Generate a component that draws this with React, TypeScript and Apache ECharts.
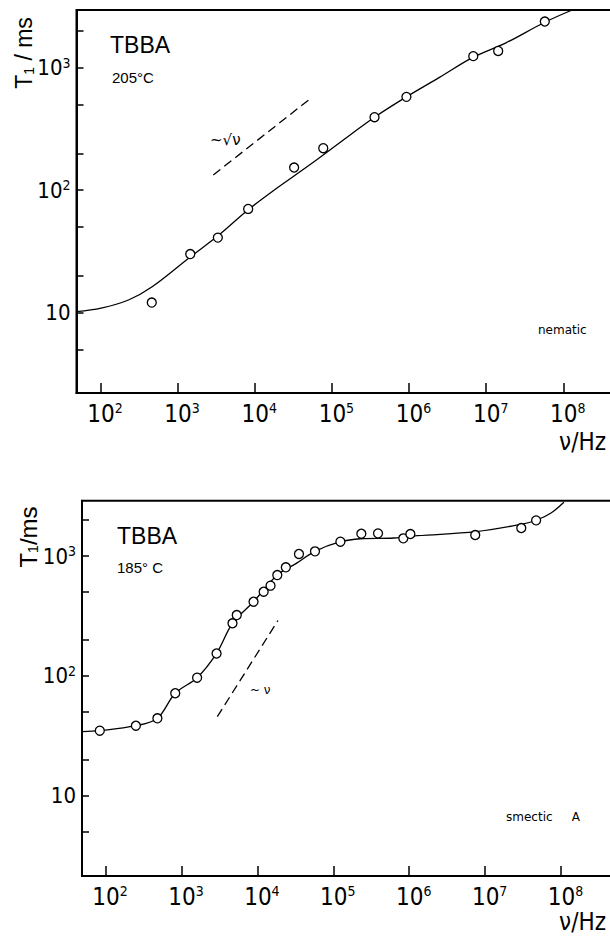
import React, { useEffect, useRef } from "react";
import * as echarts from "echarts";

// ---- axis ticks (log10 exponents / values) ----
const xDecades = [2, 3, 4, 5, 6, 7, 8];
const yDecades = [1, 2, 3];
const yTickValues = [5, 10, 20, 50, 100, 200, 500, 1000, 2000];

// ---- nematic, 205 °C ----
const nematicFreq = [463, 1460, 3325, 8220, 32400, 77300, 357000, 925000, 6.8e6, 1.43e7, 5.75e7];
const nematicT1 = [12.1, 30.1, 41, 70.3, 153, 220, 394, 577, 1240, 1368, 2377];
const nematicFitFreq = [49, 102, 231, 463, 1460, 3310, 8220, 16900, 53950, 172200, 357000, 925000, 2.48e6, 6.81e6, 1.78e7, 5.75e7, 1.3e8];
const nematicFitT1 = [10.2, 10.9, 12.7, 16.2, 28.5, 42.2, 69.2, 97.7, 164, 282, 394, 577, 832, 1216, 1585, 2344, 2951];
const nematicSlopeFreq = [2900, 52000];
const nematicSlopeT1 = [133, 555];

// ---- smectic A, 185 °C ----
const smecticFreq = [84, 251, 482, 828, 1607, 2900, 4700, 5350, 8900, 12100, 14900, 18300, 23700, 35300, 57400, 124000, 234000, 388000, 836000, 1.035e6, 7.4e6, 2.99e7, 4.69e7];
const smecticT1 = [35, 38.5, 44.4, 71.8, 96.8, 154, 275, 322, 416, 504, 566, 694, 805, 1040, 1094, 1316, 1534, 1545, 1404, 1525, 1496, 1711, 1983];
const smecticFitFreq = [49.3, 83.9, 251, 482, 828, 1607, 2897, 4699, 8892, 18280, 32580, 57280, 124700, 229100, 628100, 1.279e6, 7.568e6, 3.0e7, 4.72e7, 7.29e7, 1.09e8];
const smecticFitT1 = [34.4, 35.0, 38.5, 44.4, 71.8, 96.8, 154.5, 274.8, 415.9, 695, 869, 1094, 1315, 1393, 1413, 1476, 1596, 1837, 1986, 2270, 2805];
const smecticSlopeFreq = [2965, 18660];
const smecticSlopeT1 = [45.8, 290];

const FONT = '"Liberation Sans Narrow", "DejaVu Sans Condensed", "Liberation Sans", Arial, sans-serif';
const SANS = '"Liberation Sans", Arial, sans-serif';
const lg = (v: number) => Math.log10(v);
const pairs = (xs: number[], ys: number[]) => xs.map((x, i) => [lg(x), lg(ys[i])]);

const supRich = {
  sup: { fontSize: 14, fontFamily: FONT, color: "#000", verticalAlign: "top", lineHeight: 10 },
};

function makeXAxis(gridIndex: number) {
  return {
    type: "value",
    gridIndex,
    min: 1.69,
    max: 9,
    axisLine: { show: true, lineStyle: { color: "#000", width: 2 } },
    axisTick: { show: true, inside: true, length: 10, customValues: xDecades, lineStyle: { color: "#000", width: 1.5 } },
    axisLabel: {
      customValues: xDecades,
      formatter: (v: number) => `10{sup|${Math.round(v)}}`,
      color: "#000",
      fontFamily: FONT,
      fontSize: 24,
      lineHeight: 26,
      margin: 8,
      padding: [0, 0, 0, 9],
      rich: supRich,
    },
    splitLine: { show: false },
  };
}

function makeYAxis(gridIndex: number, min: number, max: number) {
  return {
    type: "value",
    gridIndex,
    min,
    max,
    axisLine: { show: true, lineStyle: { color: "#000", width: 2 } },
    axisTick: { show: true, inside: true, length: 7, customValues: yTickValues.map(lg), lineStyle: { color: "#000", width: 1.5 } },
    axisLabel: {
      customValues: yDecades,
      formatter: (v: number) => (Math.round(v) === 1 ? "10" : `10{sup|${Math.round(v)}}`),
      color: "#000",
      fontFamily: FONT,
      fontSize: 22,
      lineHeight: 24,
      margin: 6,
      rich: supRich,
    },
    splitLine: { show: false },
  };
}

function fitSeries(idx: number, data: number[][]) {
  return {
    type: "line",
    xAxisIndex: idx,
    yAxisIndex: idx,
    data,
    smooth: 0.35,
    showSymbol: false,
    symbol: "none",
    lineStyle: { color: "#000", width: 1.3 },
    z: 2,
  };
}
function slopeSeries(idx: number, data: number[][]) {
  return {
    type: "line",
    xAxisIndex: idx,
    yAxisIndex: idx,
    data,
    showSymbol: false,
    symbol: "none",
    lineStyle: { color: "#000", width: 1.3, type: [9, 5] },
    z: 2,
  };
}
function pointSeries(idx: number, data: number[][]) {
  return {
    type: "scatter",
    xAxisIndex: idx,
    yAxisIndex: idx,
    data,
    symbol: "circle",
    symbolSize: 9,
    itemStyle: { color: "#fff", borderColor: "#000", borderWidth: 1.3, opacity: 1 },
    z: 3,
  };
}

function txt(x: number, y: number, text: string, fontSize: number, extra: any = {}) {
  return {
    type: "text",
    x,
    y,
    rotation: extra.rotation || 0,
    style: {
      text,
      fill: "#000",
      fontSize,
      fontFamily: extra.fontFamily || SANS,
      align: extra.align || "left",
      verticalAlign: "middle",
      rich: extra.rich,
    },
    z: 10,
  };
}

const subRich = { sub: { fontSize: 14, fontFamily: SANS, verticalAlign: "bottom", lineHeight: 16 } };

export default function App() {
  const ref = useRef<HTMLDivElement>(null);
  useEffect(() => {
    if (!ref.current) return;
    const chart = echarts.init(ref.current, null, { renderer: "svg" });
    chart.setOption({
      animation: false,
      backgroundColor: "#fff",
      grid: [
        { left: 76.5, top: 10, width: 564, height: 383, show: true, borderColor: "#000", borderWidth: 2, containLabel: false, outerBoundsMode: "none" },
        { left: 82, top: 500.7, width: 555, height: 375.3, show: true, borderColor: "#000", borderWidth: 2, containLabel: false, outerBoundsMode: "none" },
      ],
      xAxis: [makeXAxis(0), makeXAxis(1)],
      yAxis: [makeYAxis(0, 0.345, 3.47), makeYAxis(1, 0.333, 3.461)],
      series: [
        fitSeries(0, pairs(nematicFitFreq, nematicFitT1)),
        slopeSeries(0, pairs(nematicSlopeFreq, nematicSlopeT1)),
        pointSeries(0, pairs(nematicFreq, nematicT1)),
        fitSeries(1, pairs(smecticFitFreq, smecticFitT1)),
        slopeSeries(1, pairs(smecticSlopeFreq, smecticSlopeT1)),
        pointSeries(1, pairs(smecticFreq, smecticT1)),
      ],
      graphic: [
        txt(24, 53, "T{sub|1} / ms", 23, { rotation: Math.PI / 2, align: "center", rich: subRich }),
        txt(110, 45, "TBBA", 23),
        txt(112, 77, "205°C", 15),
        txt(210, 140, "~√ν", 15, { fontFamily: '"DejaVu Sans", sans-serif' }),
        txt(538, 330, "nematic", 12, { fontFamily: '"DejaVu Sans", sans-serif' }),
        txt(606, 442, "ν/Hz", 24, { align: "right", fontFamily: FONT }),
        txt(28, 537, "T{sub|1}/ms", 24, { rotation: Math.PI / 2, align: "center", rich: subRich }),
        txt(117, 536, "TBBA", 23),
        txt(117, 567, "185° C", 15),
        txt(250, 690, "~ ν", 12, { fontFamily: '"DejaVu Sans", sans-serif' }),
        txt(506, 817, "smectic     A", 12, { fontFamily: '"DejaVu Sans", sans-serif' }),
        txt(606, 922, "ν/Hz", 24, { align: "right", fontFamily: FONT }),
      ],
    });
    return () => chart.dispose();
  }, []);
  return <div ref={ref} style={{ position: "fixed", left: 0, top: 0, width: 610, height: 939 }} />;
}
